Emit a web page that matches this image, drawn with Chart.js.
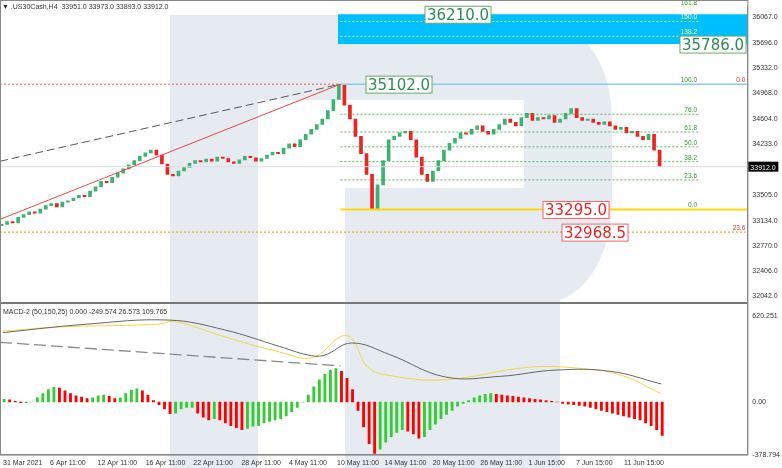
<!DOCTYPE html>
<html><head><meta charset="utf-8">
<script src="https://cdn.jsdelivr.net/npm/chart.js@4.4.1/dist/chart.umd.min.js"></script>
<style>html,body{margin:0;padding:0;background:#fff}#wrap{width:782px;height:468px;position:relative}</style>
</head><body><div id="wrap"><canvas id="c" width="782" height="468"></canvas></div>
<script>
const closes=[33080,33120,33100,33180,33220,33260,33240,33300,33350,33380,33330,33400,33420,33460,33500,33480,33560,33620,33700,33680,33760,33820,33880,33940,34000,34060,34110,34150,
34080,33950,33800,33780,
33850,33900,33960,34000,33980,34020,33990,34050,34030,33980,33960,34010,34060,34040,33990,34030,34080,34120,34100,34180,34240,34200,34300,
34380,34450,34520,34600,34720,34880,35100,
34800,34600,34350,34100,33800,33300,
33650,34000,34300,34350,34400,34420,34300,
34050,33800,33700,33850,
34000,34150,34250,34320,34400,34380,34450,34500,34420,34380,34450,34520,34600,34550,34500,34620,34680,
34580,34620,34600,34650,34550,34600,34680,34750,34620,34580,34600,34550,
34520,34560,34500,34450,34480,34400,34420,34350,34300,34380,34150,33912];
const hist=[20,15,5,-5,-5,0,30,60,90,105,100,80,60,45,35,25,30,45,50,40,25,30,60,85,95,80,50,10,
-20,-50,-85,-80,-50,-40,-40,-80,-110,-130,-120,-130,-150,-170,-185,-200,-190,-175,-170,
-150,-140,-130,-120,-100,-70,-40,0,50,110,160,200,230,240,220,170,90,
-60,-180,-300,-370,-340,-290,-250,-220,-200,-210,-230,-260,-250,-200,-160,-120,
-90,-60,-30,-10,10,30,45,55,60,55,50,45,40,35,30,25,20,15,10,5,0,-10,-15,-20,-25,-30,
-40,-50,-60,-70,-80,-90,-100,-110,-120,-130,-150,-170,-200,-240];
const greyIdx=[0,15,30,40,50,55,58,63,70,80,90,100,110,119];
const greyVal=[500,560,590,520,400,340,335,425,340,180,185,230,220,130];
const yelIdx=[0,10,28,31,40,50,56,61,63,66,70,80,95,105,112,119];
const yelVal=[510,540,560,580,470,360,320,470,460,250,190,160,250,240,190,60];
const priceTicks=[36067,35696,35332,34968,34604,34233,33869,33505,33134,32770,32406,32042];
const xTickIdx=[0,8.5,17.1,25.8,34.4,43.1,51.7,60.4,69,77.7,86.3,95,103.6,112.3];
const xTickLbl=['31 Mar 2021','6 Apr 11:00','12 Apr 11:00','16 Apr 11:00','22 Apr 11:00','28 Apr 11:00','4 May 11:00','10 May 11:00','14 May 11:00','20 May 11:00','26 May 11:00','1 Jun 15:00','7 Jun 15:00','11 Jun 15:00'];
const fibRatios=[0,23.6,38.2,50.0,61.8,76.0,100.0,138.2,150.0,161.8];
const swingHigh=35102, swingLow=33295, extLevel=32968.5, lastPrice=33912;
const header='.US30Cash,H4  33951.0 33973.0 33893.0 33912.0';
const macdTitle='MACD-2 (50,150,25) 0.000 -249.574 26.573 109.765';

const opens=closes.map((c,i)=>i?closes[i-1]:33060);
const bodies=closes.map((c,i)=>({x:i,y:[opens[i],c]}));
const candleCol=closes.map((c,i)=>c>=opens[i]?'#3cb371':'#ee2222');
const histCol=hist.map((v,i)=>i&&v<hist[i-1]?'#ff0000':'#33cc33');
const F='"Liberation Sans"';

const bg={id:'bg',beforeDraw(ch){const c=ch.ctx;c.save();c.fillStyle='#e6ebf2';
 c.fillRect(170,15,88,453);
 c.beginPath();c.moveTo(258,15);c.lineTo(520,15);c.bezierCurveTo(580,15,612,60,612,120);c.lineTo(612,200);c.bezierCurveTo(612,250,590,290,560,300);c.lineTo(560,468);c.lineTo(345,468);c.lineTo(345,300);c.lineTo(258,300);c.closePath();c.fill();
 c.fillStyle='#fff';c.fillRect(258,100,266,88);c.fillRect(258,188,87,112);c.restore();}};
const ann={id:'ann',afterDatasetsDraw(ch){const c=ch.ctx,x=ch.scales.x,y=ch.scales.y,a=ch.chartArea;c.save();
 const X=v=>x.getPixelForValue(v),Y=v=>y.getPixelForValue(v);
 const hl=(v,x0,x1,col,dash,w)=>{c.beginPath();c.setLineDash(dash);c.strokeStyle=col;c.lineWidth=w||1;c.moveTo(x0,Y(v));c.lineTo(x1,Y(v));c.stroke();};
 c.fillStyle='#00bfff';c.fillRect(338,Y(36110),a.right-338,Y(35680)-Y(36110));
 const rng=swingHigh-swingLow;
 c.font='6.5px '+F;c.textAlign='right';
 fibRatios.forEach(r=>{const v=swingLow+rng*r/100;
  if(r===0)hl(v,X(61),a.right,'#ffd700',[],2);
  else if(r===100)hl(v,X(61),a.right,'#87ceeb',[],1.5);
  else hl(v,X(61),700,r>100?'#ffff99':'#33aa33',[2,2],0.8);
  c.fillStyle=r>100?'#ffffaa':'#339933';if(r===161.8)c.fillStyle='#339933';c.fillText(r.toFixed(1),697,Y(v)-2);});
 hl(swingHigh,a.left,X(61),'#ee3333',[2,2],0.8);
 c.fillStyle='#ee3333';c.fillText('0.0',a.right-2,Y(swingHigh)-2);
 hl(extLevel,a.left,a.right,'#ff8c00',[2,2],1);
 c.fillText('23.6',a.right-2,Y(extLevel)-2);
 hl(lastPrice,a.left,a.right,'#dddddd',[],1);
 c.setLineDash([8,4]);c.strokeStyle='#555';c.lineWidth=1;c.beginPath();c.moveTo(a.left,Y(33990));c.lineTo(X(61),Y(swingHigh));c.stroke();
 c.setLineDash([]);c.strokeStyle='#ee4444';c.beginPath();c.moveTo(a.left,Y(33152));c.lineTo(X(61),Y(swingHigh));c.stroke();
 const ym=ch.scales.y2;c.setLineDash([12,5]);c.strokeStyle='#888';c.lineWidth=1.3;c.beginPath();c.moveTo(a.left,ym.getPixelForValue(430));c.lineTo(X(61),ym.getPixelForValue(260));c.stroke();c.setLineDash([]);
 const box=(t,px,v,col,bc)=>{c.font='15px "DejaVu Sans"';c.textAlign='left';const w=c.measureText(t).width+4,yy=Y(v);c.fillStyle='#fff';c.fillRect(px,yy-8,w,17);c.strokeStyle=bc;c.lineWidth=1;c.strokeRect(px,yy-8,w,17);c.fillStyle=col;c.fillText(t,px+2,yy+6);};
 box('36210.0',425,36110,'#2e8b57','#66aa66');box('35786.0',680,35680,'#2e8b57','#66aa66');box('35102.0',366,swingHigh,'#2e8b57','#66aa66');
 box('33295.0',543,swingLow,'#ee2222','#ee6666');box('32968.5',562,extLevel,'#ee2222','#ee6666');
 c.strokeStyle='#777';c.lineWidth=2;c.beginPath();c.moveTo(0,303);c.lineTo(a.right,303);c.stroke();
 c.lineWidth=1;c.strokeStyle='#888';c.strokeRect(a.left+0.5,0.5,a.right-a.left,a.bottom);
 c.fillStyle='#000';c.fillRect(a.right+1,Y(lastPrice)-5,30,10);c.fillStyle='#fff';c.font='7px '+F;c.textAlign='left';c.fillText(lastPrice.toFixed(1),a.right+3,Y(lastPrice)+3);
 c.fillStyle='#333';c.font='7px '+F;c.fillText('▼ '+header,2,9);c.fillText(macdTitle,3,314);
 c.restore();}};

new Chart(document.getElementById('c'),{
 data:{datasets:[
  {type:'bar',data:bodies,yAxisID:'y',backgroundColor:candleCol,borderColor:candleCol,barThickness:3,minBarLength:1,order:2},
  {type:'bar',data:hist.map((v,i)=>({x:i,y:v})),yAxisID:'y2',backgroundColor:histCol,barThickness:2.2,order:2},
  {type:'line',data:greyIdx.map((v,i)=>({x:v,y:greyVal[i]})),yAxisID:'y2',borderColor:'#666',borderWidth:1,pointRadius:0,tension:0.4,order:1},
  {type:'line',data:yelIdx.map((v,i)=>({x:v,y:yelVal[i]})),yAxisID:'y2',borderColor:'#f5d742',borderWidth:1,pointRadius:0,tension:0.4,order:1}
 ]},
 options:{responsive:false,animation:false,layout:{padding:0},
  plugins:{legend:{display:false},tooltip:{enabled:false}},
  scales:{
   x:{type:'linear',min:-0.55,max:134.6,offset:false,grid:{display:false,tickLength:3},border:{color:'#888'},
     afterBuildTicks:s=>{s.ticks=xTickIdx.map(v=>({value:v}));},
     ticks:{autoSkip:false,maxRotation:0,align:'start',padding:1,color:'#333',font:{size:7,family:'Liberation Sans'},callback:(v,i)=>xTickLbl[i]}},
   y:{position:'right',stack:'s',stackWeight:2.05,min:31880,max:36226,grid:{display:false,tickLength:3},border:{color:'#888'},
     afterBuildTicks:s=>{s.ticks=priceTicks.map(v=>({value:v}));},
     ticks:{autoSkip:false,padding:2,color:'#333',font:{size:7,family:'Liberation Sans'},callback:v=>v===33869?'':v.toFixed(1)}},
   y2:{position:'right',stack:'s',stackWeight:1,min:-379,max:680,grid:{display:false,tickLength:3},border:{color:'#888'},
     afterBuildTicks:s=>{s.ticks=[{value:-378.794},{value:0},{value:620.251}];},
     ticks:{autoSkip:false,padding:2,color:'#333',font:{size:7,family:'Liberation Sans'},callback:v=>v===0?'0.00':v.toFixed(3)}}
  }},
 plugins:[bg,ann]});
</script></body></html>
